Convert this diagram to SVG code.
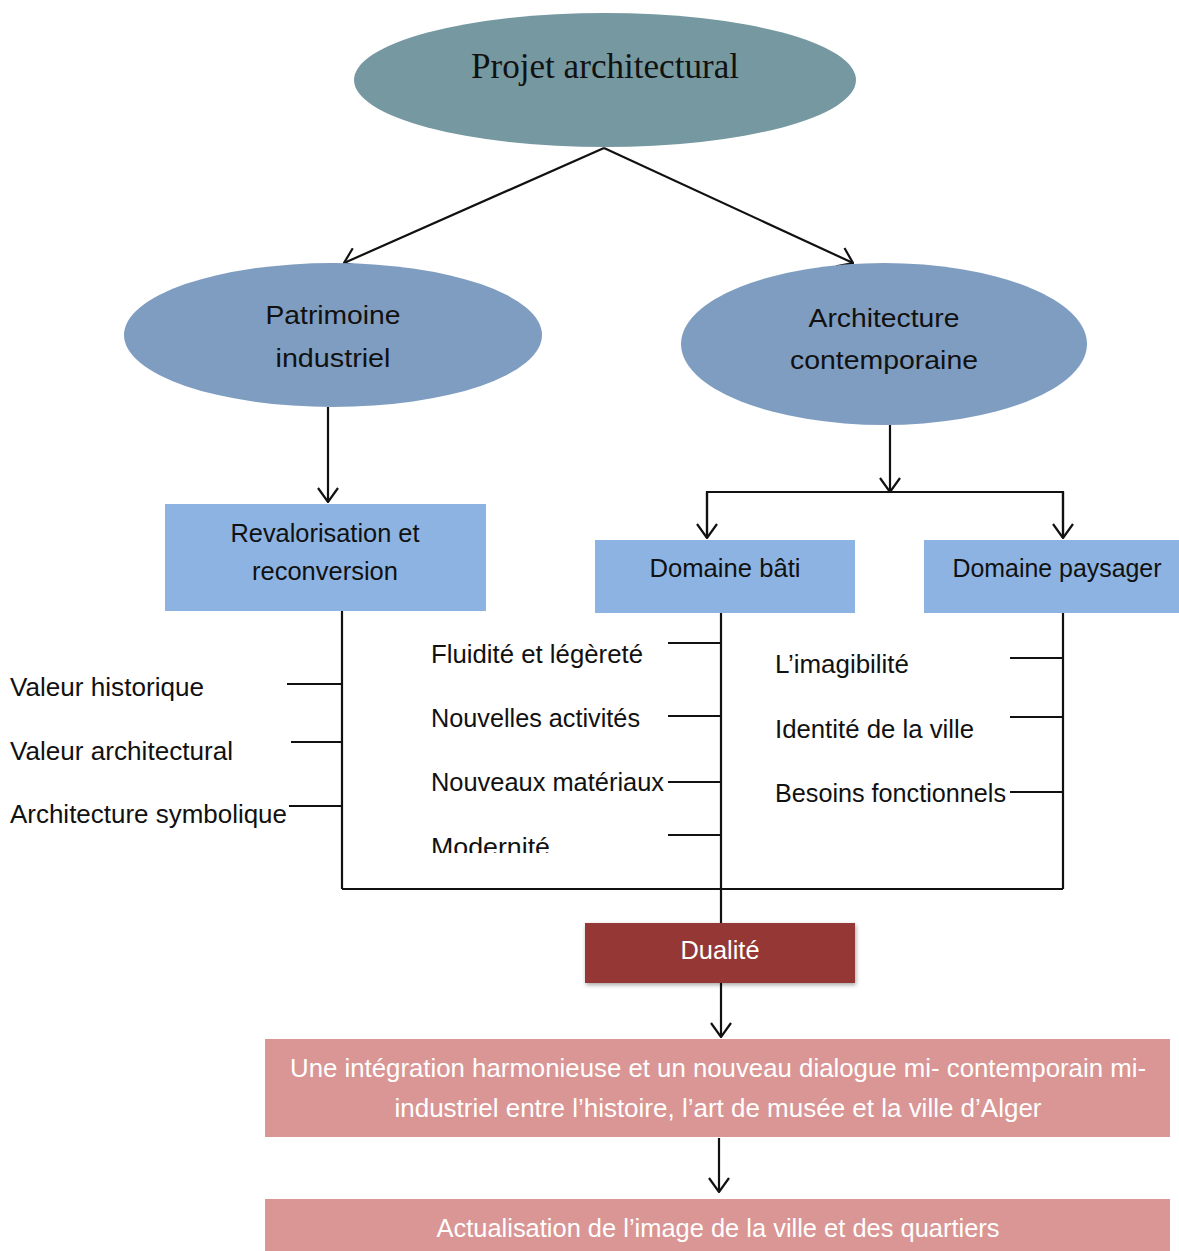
<svg xmlns="http://www.w3.org/2000/svg" width="1179" height="1251" viewBox="0 0 1179 1251">
<style>
.t{font-family:"Liberation Sans",Arial,sans-serif;font-size:25px;fill:#111}
.w{font-family:"Liberation Sans",Arial,sans-serif;font-size:26px;fill:#fff}
.c{text-anchor:middle}
.ln{stroke:#111;stroke-width:2.2;fill:none}
</style>
<defs>
<marker id="ah" markerUnits="userSpaceOnUse" viewBox="0 0 16 22" markerWidth="16" markerHeight="22" refX="15" refY="11" orient="auto">
<path d="M1,1 L15,11 L1,21" fill="none" stroke="#111" stroke-width="2.2"/>
</marker>
<filter id="sh" x="-10%" y="-20%" width="120%" height="150%">
<feDropShadow dx="1" dy="2" stdDeviation="2" flood-color="#000" flood-opacity="0.35"/>
</filter>
<clipPath id="clipM"><rect x="420" y="820" width="220" height="33"/></clipPath>
</defs>
<rect width="1179" height="1251" fill="#fff"/>

<g id="connectors">
<line class="ln" x1="604" y1="148" x2="344" y2="263" marker-end="url(#ah)"/>
<line class="ln" x1="604" y1="148" x2="853" y2="263" marker-end="url(#ah)"/>
<line class="ln" x1="328" y1="407" x2="328" y2="502" marker-end="url(#ah)"/>
<line class="ln" x1="890" y1="425" x2="890" y2="492" marker-end="url(#ah)"/>
<polyline class="ln" points="707,538 707,492 1063,492 1063,538"/>
<line class="ln" x1="707" y1="492" x2="707" y2="538" marker-end="url(#ah)"/>
<line class="ln" x1="1063" y1="492" x2="1063" y2="538" marker-end="url(#ah)"/>
<line class="ln" x1="342" y1="611" x2="342" y2="889"/>
<line class="ln" x1="287" y1="684" x2="342" y2="684"/>
<line class="ln" x1="291" y1="742" x2="342" y2="742"/>
<line class="ln" x1="289" y1="806" x2="342" y2="806"/>
<line class="ln" x1="721" y1="613" x2="721" y2="923"/>
<line class="ln" x1="668" y1="643" x2="721" y2="643"/>
<line class="ln" x1="668" y1="716" x2="721" y2="716"/>
<line class="ln" x1="668" y1="782" x2="721" y2="782"/>
<line class="ln" x1="668" y1="835" x2="721" y2="835"/>
<line class="ln" x1="1063" y1="613" x2="1063" y2="889"/>
<line class="ln" x1="1010" y1="658" x2="1063" y2="658"/>
<line class="ln" x1="1010" y1="717" x2="1063" y2="717"/>
<line class="ln" x1="1010" y1="792" x2="1063" y2="792"/>
<line class="ln" x1="342" y1="889" x2="1063" y2="889"/>
<line class="ln" x1="721" y1="983" x2="721" y2="1037" marker-end="url(#ah)"/>
<line class="ln" x1="719" y1="1138" x2="719" y2="1192" marker-end="url(#ah)"/>
</g>

<g id="projet">
<ellipse cx="605" cy="80" rx="251" ry="67" fill="#7699a1"/>
<text x="605" y="78" text-anchor="middle" font-family="'Liberation Serif','Times New Roman',serif" font-size="35" fill="#111" textLength="268" lengthAdjust="spacingAndGlyphs">Projet architectural</text>
</g>

<g id="patrimoine">
<ellipse cx="333" cy="335" rx="209" ry="72" fill="#7f9dc0"/>
<text class="t c" x="333" y="324" textLength="135" lengthAdjust="spacingAndGlyphs">Patrimoine</text>
<text class="t c" x="333" y="367" textLength="115" lengthAdjust="spacingAndGlyphs">industriel</text>
</g>

<g id="contemporaine">
<ellipse cx="884" cy="344" rx="203" ry="81" fill="#7f9dc0"/>
<text class="t c" x="884" y="327" textLength="151" lengthAdjust="spacingAndGlyphs">Architecture</text>
<text class="t c" x="884" y="369" textLength="188" lengthAdjust="spacingAndGlyphs">contemporaine</text>
</g>

<g id="revalorisation">
<rect x="165" y="504" width="321" height="107" fill="#8db3e2"/>
<text class="t c" x="325" y="542" textLength="189" lengthAdjust="spacingAndGlyphs">Revalorisation et</text>
<text class="t c" x="325" y="580" textLength="146" lengthAdjust="spacingAndGlyphs">reconversion</text>
</g>

<g id="domaine-bati">
<rect x="595" y="540" width="260" height="73" fill="#8db3e2"/>
<text class="t c" x="725" y="577" textLength="151" lengthAdjust="spacingAndGlyphs">Domaine bâti</text>
</g>

<g id="domaine-paysager">
<rect x="924" y="540" width="255" height="73" fill="#8db3e2"/>
<text class="t c" x="1057" y="577" textLength="209" lengthAdjust="spacingAndGlyphs">Domaine paysager</text>
</g>

<g id="left-items">
<text class="t" x="10" y="696" textLength="194" lengthAdjust="spacingAndGlyphs">Valeur historique</text>
<text class="t" x="10" y="760" textLength="223" lengthAdjust="spacingAndGlyphs">Valeur architectural</text>
<text class="t" x="10" y="823" textLength="277" lengthAdjust="spacingAndGlyphs">Architecture symbolique</text>
</g>

<g id="middle-items">
<text class="t" x="431" y="663" textLength="212" lengthAdjust="spacingAndGlyphs">Fluidité et légèreté</text>
<text class="t" x="431" y="727" textLength="209" lengthAdjust="spacingAndGlyphs">Nouvelles activités</text>
<text class="t" x="431" y="791" textLength="233" lengthAdjust="spacingAndGlyphs">Nouveaux matériaux</text>
<text class="t" x="431" y="856" textLength="119" lengthAdjust="spacingAndGlyphs" clip-path="url(#clipM)">Modernité</text>
</g>

<g id="right-items">
<text class="t" x="775" y="673" textLength="134" lengthAdjust="spacingAndGlyphs">L’imagibilité</text>
<text class="t" x="775" y="738" textLength="199" lengthAdjust="spacingAndGlyphs">Identité de la ville</text>
<text class="t" x="775" y="802" textLength="231" lengthAdjust="spacingAndGlyphs">Besoins fonctionnels</text>
</g>

<g id="dualite">
<rect x="585" y="923" width="270" height="60" fill="#953735" filter="url(#sh)"/>
<text class="t c" x="720" y="959" style="fill:#fff" textLength="79" lengthAdjust="spacingAndGlyphs">Dualité</text>
</g>

<g id="integration">
<rect x="265" y="1039" width="905" height="98" fill="#d99694"/>
<text class="w c" x="718" y="1077" textLength="856" lengthAdjust="spacingAndGlyphs">Une intégration harmonieuse et un nouveau dialogue mi- contemporain mi-</text>
<text class="w c" x="718" y="1117" textLength="647" lengthAdjust="spacingAndGlyphs">industriel entre l’histoire, l’art de musée et la ville d’Alger</text>
</g>

<g id="actualisation">
<rect x="265" y="1199" width="905" height="60" fill="#d99694"/>
<text class="w c" x="718" y="1237" textLength="563" lengthAdjust="spacingAndGlyphs">Actualisation de l’image de la ville et des quartiers</text>
</g>
</svg>
